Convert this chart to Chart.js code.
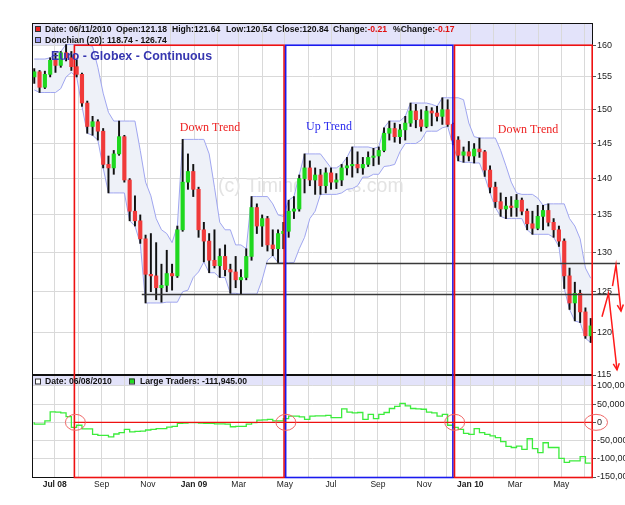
<!DOCTYPE html>
<html>
<head>
<meta charset="utf-8">
<script src="https://cdn.jsdelivr.net/npm/chart.js@4"></script>
<style>
  html, body { margin: 0; padding: 0; background: #fff; }
  #wrap { width: 625px; height: 505px; }
</style>
</head>
<body>
<div id="wrap"><canvas id="chart" width="625" height="505"></canvas></div>
<script>
// ── Data (weekly bars) ───────────────────────────────────────────────────────

const FIRST_WEEK = '2008-06-04';

const OPEN = [155.0,155.8,153.4,155.4,157.6,156.8,158.8,158.0,156.6,155.4,
  151.0,147.5,148.2,146.8,142.0,141.5,143.5,146.0,139.8,135.5,
  134.2,131.8,127.2,127.0,125.5,125.8,127.3,127.0,133.0,139.5,
  141.0,138.5,133.0,131.5,129.0,128.3,129.5,127.8,127.5,126.5,
  126.8,129.5,136.0,133.5,134.5,131.0,130.5,132.5,132.8,135.5,
  135.8,140.0,141.5,139.8,140.5,139.0,140.8,139.5,139.8,141.5,
  141.8,142.0,141.5,142.0,143.0,143.2,144.0,146.5,147.2,146.0,
  147.0,148.0,149.8,148.5,147.5,149.8,149.5,149.0,150.0,147.8,
  145.5,143.3,143.8,143.2,144.2,143.8,141.2,138.8,136.8,135.8,
  136.2,136.0,137.0,135.5,133.8,133.2,134.8,135.6,134.0,133.0,
  131.5,127.0,123.6,124.8,122.5,119.6];

const HIGH = [156.3,156.0,155.9,158.0,158.7,159.0,160.1,159.0,157.7,155.6,
  151.3,149.0,148.5,147.2,143.2,144.0,148.3,146.2,140.0,137.6,
  135.0,132.3,132.5,131.3,128.5,130.3,128.5,133.5,145.6,143.5,
  142.0,138.8,134.0,132.5,133.0,130.5,131.0,128.5,129.5,127.8,
  130.5,137.5,136.5,135.0,134.8,133.0,133.0,134.0,137.0,137.5,
  140.5,143.5,142.5,141.5,141.3,141.5,141.5,140.7,142.0,143.0,
  144.5,143.8,143.0,143.8,144.3,144.5,147.3,148.3,148.0,147.8,
  149.0,151.0,150.8,150.0,150.5,150.3,150.5,151.8,151.5,148.0,
  146.0,144.5,145.3,145.0,145.8,144.0,141.8,139.5,138.0,137.4,
  137.5,137.8,137.3,135.8,135.5,136.3,136.3,136.5,134.5,133.5,
  131.8,128.0,126.2,125.2,123.0,121.7];

const LOW = [154.0,152.6,153.2,155.0,155.7,156.5,157.5,156.0,155.0,150.5,
  146.5,146.2,145.5,141.5,138.0,140.6,143.3,139.5,134.2,133.5,
  131.2,123.6,125.0,124.0,123.7,125.0,125.2,126.8,132.8,138.5,
  137.5,132.0,128.8,127.4,128.0,126.8,127.0,124.8,125.5,124.7,
  126.5,129.0,132.5,130.8,130.2,129.6,128.7,130.5,132.0,134.5,
  135.5,138.0,139.0,137.8,137.8,138.0,138.5,138.6,139.0,140.5,
  140.2,140.8,140.6,141.7,141.8,142.0,143.8,145.5,145.2,145.0,
  145.5,147.5,147.3,146.8,147.3,147.6,148.3,147.8,147.5,144.8,
  142.5,142.3,142.5,142.2,143.0,140.3,138.0,136.0,134.8,134.5,
  134.8,134.8,135.0,133.0,132.4,133.0,133.0,133.5,132.0,130.8,
  125.4,122.8,121.4,121.2,119.3,118.8];

const CLOSE = [155.8,153.4,155.4,157.6,156.8,158.8,158.0,156.6,155.4,151.0,
  147.5,148.2,146.8,142.0,141.5,143.5,146.0,139.8,135.5,134.2,
  131.8,127.2,127.0,125.5,125.8,127.3,127.0,133.0,139.5,141.0,
  138.5,133.0,131.5,129.0,128.3,129.5,127.8,127.5,126.5,126.8,
  129.5,136.0,133.5,134.5,131.0,130.5,132.5,132.8,135.5,135.8,
  140.0,141.5,139.8,140.5,139.0,140.8,139.5,139.8,141.5,141.8,
  142.0,141.5,142.0,143.0,143.2,144.0,146.5,147.2,146.0,147.0,
  148.0,149.8,148.5,147.5,149.8,149.5,149.0,150.0,147.8,145.5,
  143.3,143.8,143.2,144.2,143.8,141.2,138.8,136.8,135.8,136.2,
  136.0,137.0,135.5,133.8,133.2,134.8,135.6,134.0,133.0,131.5,
  127.0,123.6,124.8,122.5,119.6,120.8];

const DON_UPPER = [157.8,157.8,157.8,158.0,158.7,159.0,160.1,160.1,160.1,160.1,
  160.1,159.8,156.5,152.5,149.6,148.3,148.3,148.3,148.3,148.3,
  144.0,139.5,137.6,134.5,133.0,132.5,131.3,133.5,145.6,145.6,
  145.6,145.6,145.6,143.5,138.8,134.0,133.0,133.0,131.0,131.0,
  130.5,137.5,137.5,137.5,137.5,136.5,135.0,134.8,137.0,137.5,
  140.5,143.5,143.5,143.5,143.5,142.5,141.5,141.5,142.0,143.0,
  144.5,144.5,144.5,144.5,144.3,144.5,147.3,148.3,148.3,148.3,
  149.0,151.0,151.0,151.0,151.0,150.8,150.5,151.8,151.8,151.8,
  151.8,151.5,148.0,146.0,145.8,145.8,145.8,145.8,144.0,141.8,
  139.5,138.0,137.8,137.8,137.8,137.3,136.3,136.5,136.5,136.5,
  136.5,134.5,133.5,131.8,128.0,126.7];

const DON_LOWER = [153.0,152.6,152.6,152.6,152.6,153.2,155.0,155.7,155.0,150.5,
  146.5,146.2,145.5,141.5,138.0,138.0,138.0,138.0,134.2,133.5,
  131.2,123.6,123.6,123.6,123.6,123.7,123.7,123.7,125.0,125.2,
  126.8,127.5,128.8,127.4,127.4,126.8,126.8,124.8,124.8,124.7,
  124.7,124.7,124.7,126.5,129.0,129.6,128.7,128.7,128.7,128.7,
  130.5,132.0,134.5,135.5,137.8,137.8,137.8,137.8,138.0,138.5,
  138.6,139.0,140.2,140.2,140.6,140.6,141.7,141.8,142.0,143.8,
  145.0,145.0,145.0,145.5,146.8,146.8,146.8,147.3,147.5,144.8,
  142.5,142.3,142.3,142.2,142.2,140.3,138.0,136.0,134.8,134.5,
  134.5,134.5,134.5,133.0,132.4,132.4,132.4,132.4,132.0,130.8,
  125.4,122.8,121.4,121.2,119.3,118.8];

// Large Traders net position, thousands of contracts
const LARGE_TRADERS_K = [0,-5,-5,4,29,28,26,16,-14,-8,
  -18,-18,-33,-36,-36,-40,-32,-28,-19,-26,
  -25,-24,-21,-19,-17,-17,-13,-11,-3,-2,
  -1,-1,-2,-3,-3,-4,-4,-5,-12,-11,
  -11,-5,-1,6,7,8,4,4,10,17,
  17,15,8,17,18,18,19,13,13,37,
  28,26,27,8,22,10,22,27,38,44,
  52,45,38,37,36,28,26,17,22,-8,
  -14,-19,-30,-33,-17,-28,-33,-37,-42,-53,
  -66,-69,-65,-74,-45,-72,-83,-56,-69,-69,
  -99,-110,-106,-106,-94,-111.9];

const PRICE_TICKS  = [115, 120, 125, 130, 135, 140, 145, 150, 155, 160];
const TRADER_TICKS = [-150000, -100000, -50000, 0, 50000, 100000];

// one entry per month from Jun 2008 to Jun 2010
const MONTH_LABELS = ['', 'Jul 08', '', 'Sep', '', 'Nov', '', 'Jan 09', '', 'Mar', '', 'May', '',
                      'Jul', '', 'Sep', '', 'Nov', '', 'Jan 10', '', 'Mar', '', 'May', ''];

// annotations
const TREND_BOXES = [
  { from: '2008-07-27', to: '2009-05-01', color: '#ee1111' },
  { from: '2009-05-01', to: '2009-12-10', color: '#1a1aee' },
  { from: '2009-12-10', to: '2010-06-12', color: '#ee1111' },
];
const LEVELS = [
  { price: 128.6,  from: '2009-04-06' },
  { price: 124.75, from: '2008-10-24' },
];

// ── Helpers ──────────────────────────────────────────────────────────────────

const FONT  = "'Liberation Sans', Arial, Helvetica, sans-serif";
const SERIF = "'Liberation Serif', 'Times New Roman', serif";

const dayOf = s => Date.parse(s + 'T00:00:00Z') / 864e5;
const X_MIN = dayOf('2008-06-01');
const X_MAX = dayOf('2010-06-12');
const WEEK_DAYS  = OPEN.map((_, i) => dayOf(FIRST_WEEK) + 7 * i);
const MONTH_DAYS = MONTH_LABELS.map((_, k) => Date.UTC(2008, 5 + k, 1) / 864e5);

const UP = '#1fd81f', DOWN = '#f03a3a';

function drawText(ctx, str, x, y, font, color, align) {
  ctx.font = font;
  ctx.fillStyle = color;
  ctx.textAlign = align || 'left';
  ctx.textBaseline = 'middle';
  ctx.fillText(str, x, y);
  return x + ctx.measureText(str).width;
}

function square(ctx, x, y, fill) {
  ctx.fillStyle = fill;
  ctx.fillRect(x, y, 5, 5);
  ctx.strokeStyle = '#333';
  ctx.lineWidth = 1;
  ctx.strokeRect(x + 0.5, y + 0.5, 5, 5);
}

function arrow(ctx, pts) {
  ctx.beginPath();
  pts.forEach(([px, py], i) => (i ? ctx.lineTo(px, py) : ctx.moveTo(px, py)));
  ctx.stroke();
  const [x1, y1] = pts[pts.length - 2];
  const [x2, y2] = pts[pts.length - 1];
  const ang = Math.atan2(y2 - y1, x2 - x1);
  ctx.beginPath();
  ctx.moveTo(x2 - 7 * Math.cos(ang - 0.45), y2 - 7 * Math.sin(ang - 0.45));
  ctx.lineTo(x2, y2);
  ctx.lineTo(x2 - 7 * Math.cos(ang + 0.45), y2 - 7 * Math.sin(ang + 0.45));
  ctx.stroke();
}

// ── Overlay plugin: headers, frame, annotations ─────────────────────────────

const overlay = {
  id: 'overlay',

  beforeDraw(chart) {
    const { ctx, chartArea: a, width, height } = chart;
    ctx.save();
    ctx.fillStyle = '#fff';
    ctx.fillRect(0, 0, width, height);
    ctx.fillStyle = '#e3e3fa';
    ctx.fillRect(a.left, a.top, a.right - a.left, 22);
    ctx.fillRect(a.left, chart.scales.y2.top, a.right - a.left, 11);
    ctx.restore();
  },

  beforeDatasetsDraw(chart) {
    const { ctx } = chart;
    ctx.save();
    drawText(ctx, '(c) TimingCharts.com', 218, 187, `19.5px ${FONT}`, '#e3e3e3');
    ctx.restore();
  },

  afterDatasetsDraw(chart) {
    const { ctx, chartArea: a, scales: { x, y, y2 } } = chart;
    ctx.save();

    // frame and pane separator
    ctx.strokeStyle = '#111';
    ctx.lineWidth = 1;
    ctx.strokeRect(a.left + 0.5, a.top + 0.5, a.right - a.left - 1, a.bottom - a.top);
    ctx.lineWidth = 2;
    ctx.beginPath();
    ctx.moveTo(a.left, y.bottom);
    ctx.lineTo(a.right, y.bottom);
    ctx.stroke();

    // support levels
    ctx.strokeStyle = '#3a3a3a';
    ctx.lineWidth = 1.3;
    LEVELS.forEach(l => {
      const py = Math.round(y.getPixelForValue(l.price)) + 0.5;
      ctx.beginPath();
      ctx.moveTo(x.getPixelForValue(dayOf(l.from)), py);
      ctx.lineTo(a.right + 27, py);
      ctx.stroke();
    });

    // trend boxes spanning both panes
    const top = y.getPixelForValue(160);
    ctx.lineWidth = 1.6;
    TREND_BOXES.forEach((b, i) => {
      const x1 = x.getPixelForValue(dayOf(b.from)) + (i ? 0.8 : 0);
      const x2 = x.getPixelForValue(dayOf(b.to)) - 0.8;
      ctx.strokeStyle = b.color;
      ctx.strokeRect(x1, top, x2 - x1, a.bottom + 0.5 - top);
    });

    // zero line of the lower pane, with circles
    const zy = y2.getPixelForValue(0);
    const zx = x.getPixelForValue(dayOf(TREND_BOXES[0].from));
    ctx.strokeStyle = '#ee1111';
    ctx.lineWidth = 1.2;
    ctx.beginPath();
    ctx.moveTo(zx, zy);
    ctx.lineTo(a.right, zy);
    ctx.stroke();

    const cx = TREND_BOXES.map(b => x.getPixelForValue(dayOf(b.from)) + 1).concat([a.right + 3]);
    ctx.strokeStyle = '#f06868';
    ctx.lineWidth = 1;
    cx.forEach((c, i) => {
      ctx.beginPath();
      ctx.ellipse(c, zy, i === 3 ? 11.5 : 10, 8, 0, 0, Math.PI * 2);
      ctx.stroke();
    });
    ctx.restore();
  },

  afterDraw(chart) {
    const { ctx, chartArea: a, scales: { y, y2 } } = chart;
    ctx.save();
    const hb = `bold 8.6px ${FONT}`;

    // upper header
    square(ctx, 35, 26, '#ee2222');
    drawText(ctx, 'Date: 06/11/2010', 45, 29.5, hb, '#111');
    drawText(ctx, 'Open:121.18', 116, 29.5, hb, '#111');
    drawText(ctx, 'High:121.64', 172, 29.5, hb, '#111');
    drawText(ctx, 'Low:120.54', 226, 29.5, hb, '#111');
    drawText(ctx, 'Close:120.84', 276, 29.5, hb, '#111');
    let cx = drawText(ctx, 'Change:', 333, 29.5, hb, '#111');
    drawText(ctx, '-0.21', cx, 29.5, hb, '#e01010');
    cx = drawText(ctx, '%Change:', 393, 29.5, hb, '#111');
    drawText(ctx, '-0.17', cx, 29.5, hb, '#e01010');
    square(ctx, 35, 37, '#9a9af2');
    drawText(ctx, 'Donchian (20): 118.74 - 126.74', 45, 40.5, hb, '#111');

    // lower header
    const ly = y2.top + 6.5;
    square(ctx, 35, ly - 3, '#ffffff');
    drawText(ctx, 'Date: 06/08/2010', 45, ly, hb, '#111');
    square(ctx, 129, ly - 3, '#22dd22');
    drawText(ctx, 'Large Traders: -111,945.00', 140, ly, hb, '#111');

    // title and trend labels
    drawText(ctx, 'Euro - Globex - Continuous', 51, 56.5, `bold 12.4px ${FONT}`, '#3636b0');
    drawText(ctx, 'Down Trend', 210, 128, `12px ${SERIF}`, '#ee2222', 'center');
    drawText(ctx, 'Up Trend', 329, 127, `12px ${SERIF}`, '#2b2bee', 'center');
    drawText(ctx, 'Down Trend', 528, 130, `12px ${SERIF}`, '#ee2222', 'center');

    // arrows right of the price axis
    const r = a.right;
    ctx.strokeStyle = '#ff1a1a';
    ctx.lineWidth = 1.5;
    arrow(ctx, [[r + 19.5, y.getPixelForValue(125.7)], [r + 23, y.getPixelForValue(128.4)], [r + 28, y.getPixelForValue(122.6)]]);
    arrow(ctx, [[r + 9, y.getPixelForValue(121.9)], [r + 15.5, y.getPixelForValue(124.8)], [r + 24, y.getPixelForValue(115.6)]]);
    ctx.restore();
  },
};

// ── Chart ────────────────────────────────────────────────────────────────────

Chart.defaults.font.family = FONT;

const tickFont = { family: FONT, size: 9 };

new Chart(document.getElementById('chart'), {
  type: 'bar',
  data: {
    datasets: [
      {
        label: 'Body',
        data: WEEK_DAYS.map((d, i) => ({ x: d, y: [OPEN[i], CLOSE[i]] })),
        backgroundColor: OPEN.map((o, i) => (CLOSE[i] >= o ? UP : DOWN)),
        barThickness: 3.5,
        maxBarThickness: 3.5,
        grouped: false,
        yAxisID: 'y',
        order: 0,
      },
      {
        label: 'Range',
        data: WEEK_DAYS.map((d, i) => ({ x: d, y: [LOW[i], HIGH[i]] })),
        backgroundColor: '#111',
        barThickness: 1.3,
        maxBarThickness: 1.3,
        grouped: false,
        yAxisID: 'y',
        order: 1,
      },
      {
        type: 'line',
        label: 'Large Traders',
        data: WEEK_DAYS.map((d, i) => ({ x: d, y: LARGE_TRADERS_K[i] * 1000 })),
        borderColor: '#3cec3c',
        borderWidth: 1.3,
        stepped: 'after',
        pointRadius: 0,
        yAxisID: 'y2',
        order: 2,
      },
      {
        type: 'line',
        label: 'Donchian upper',
        data: WEEK_DAYS.map((d, i) => ({ x: d, y: DON_UPPER[i] })),
        borderColor: '#a0a6f0',
        borderWidth: 1,
        pointRadius: 0,
        fill: false,
        yAxisID: 'y',
        order: 3,
      },
      {
        type: 'line',
        label: 'Donchian lower',
        data: WEEK_DAYS.map((d, i) => ({ x: d, y: DON_LOWER[i] })),
        borderColor: '#a0a6f0',
        borderWidth: 1,
        pointRadius: 0,
        fill: '-1',
        backgroundColor: '#eef1f8',
        yAxisID: 'y',
        order: 4,
      },
    ],
  },
  options: {
    responsive: false,
    animation: false,
    devicePixelRatio: 1,
    events: [],
    layout: { padding: { top: 23, left: 32, right: 0, bottom: 0 } },
    plugins: { legend: { display: false }, tooltip: { enabled: false } },
    scales: {
      x: {
        type: 'linear',
        min: X_MIN,
        max: X_MAX,
        offset: false,
        afterBuildTicks: s => { s.ticks = MONTH_DAYS.map(v => ({ value: v })); },
        afterFit: s => { s.height = 28; },
        grid: { color: '#d9d9d9', drawTicks: false, offset: false },
        border: { display: false },
        ticks: {
          autoSkip: false,
          maxRotation: 0,
          padding: 3,
          color: '#222',
          callback: (v, i) => MONTH_LABELS[i],
          font: c => ({ family: FONT, size: 8.5, weight: /\d/.test(MONTH_LABELS[c.index] || '') ? 'bold' : 'normal' }),
        },
      },
      y: {
        type: 'logarithmic',
        position: 'right',
        stack: 'panes',
        stackWeight: 352,
        min: 115,
        max: 163.6,
        afterBuildTicks: s => { s.ticks = PRICE_TICKS.map(v => ({ value: v })); },
        afterFit: s => { s.width = 32; },
        grid: { color: '#d9d9d9', tickColor: '#555', tickLength: 3 },
        border: { display: false },
        ticks: { autoSkip: false, padding: 1, color: '#222', font: tickFont, callback: v => String(v) },
      },
      y2: {
        type: 'linear',
        position: 'right',
        stack: 'panes',
        stackWeight: 102,
        min: -150000,
        max: 130000,
        afterBuildTicks: s => { s.ticks = TRADER_TICKS.map(v => ({ value: v })); },
        afterFit: s => { s.width = 32; },
        grid: { color: '#d9d9d9', tickColor: '#555', tickLength: 3 },
        border: { display: false },
        ticks: { autoSkip: false, padding: 1, color: '#222', font: tickFont, callback: v => v.toLocaleString('en-US') },
      },
    },
  },
  plugins: [overlay],
});
</script>
</body>
</html>
